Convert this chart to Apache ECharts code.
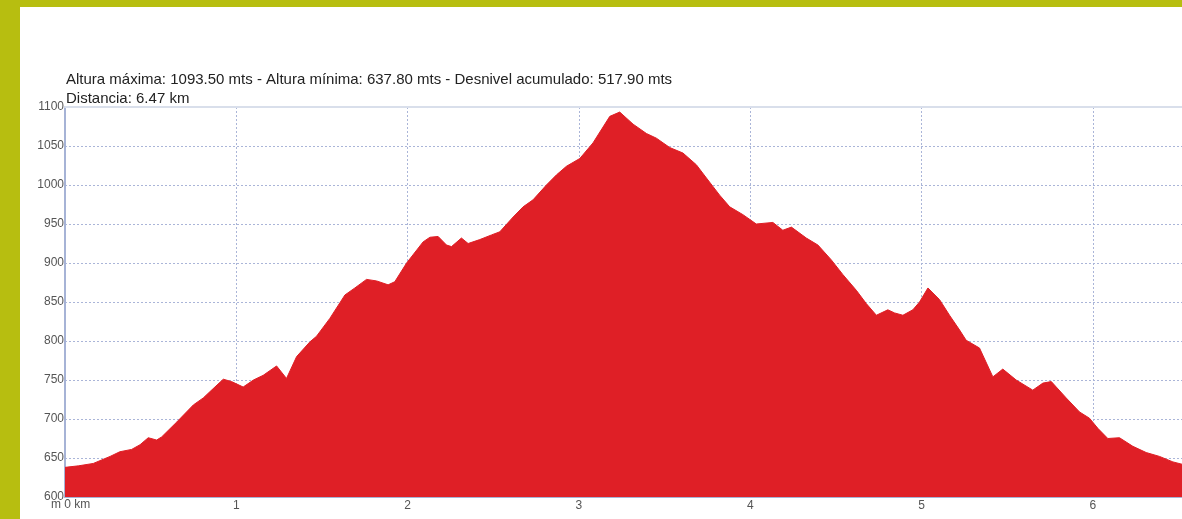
<!DOCTYPE html>
<html><head><meta charset="utf-8">
<script src="https://cdn.jsdelivr.net/npm/echarts@6/dist/echarts.min.js"></script>
<style>
html,body{margin:0;padding:0;width:1182px;height:519px;overflow:hidden;background:#b7be10;}
#panel{position:absolute;left:20px;top:7px;right:0;bottom:0;background:#fff;}
#chart{position:absolute;left:0;top:0;width:1182px;height:519px;}
</style></head>
<body><div id="panel"></div><div id="chart"></div>
<script>
const distancesKm = [0,0.08,0.165,0.263,0.32,0.389,0.438,0.486,0.535,0.564,0.652,0.749,0.807,0.87,0.924,0.972,1.04,1.10,1.157,1.235,1.293,1.352,1.43,1.468,1.546,1.634,1.692,1.76,1.819,1.886,1.925,1.994,2.09,2.13,2.178,2.227,2.256,2.314,2.353,2.421,2.49,2.538,2.616,2.674,2.732,2.81,2.869,2.927,3.005,3.082,3.18,3.238,3.316,3.394,3.452,3.53,3.607,3.685,3.744,3.821,3.88,3.957,4.035,4.132,4.19,4.24,4.327,4.395,4.473,4.541,4.619,4.677,4.736,4.803,4.842,4.891,4.949,4.988,5.037,5.105,5.163,5.222,5.26,5.338,5.416,5.474,5.552,5.649,5.708,5.757,5.844,5.922,5.98,6.029,6.087,6.155,6.233,6.311,6.389,6.467,6.52];
const elevationsM = [638,640,643,652,658,661,667,676,673,677,696,718,727,740,751,748,741,750,756,768,752,780,799,806,829,859,868,879,877,872,876,900,927,933,934,923,921,932,925,930,936,940,959,972,981,1000,1013,1024,1034,1054,1088,1093.5,1078,1066,1060,1048,1041,1026,1009,987,972,962,950,952,942,946,932,923,904,885,865,848,833,840,836,833,840,850,868,853,833,814,801,791,754,764,750,737,746,748,727,709,701,688,675,676,665,657,652,645,642];
const xTickLabels = ['m 0 km','1','2','3','4','5','6'];
const yTickLabels = ['600','650','700','750','800','850','900','950','1000','1050','1100'];
const titleLines = ['Altura máxima: 1093.50 mts - Altura mínima: 637.80 mts - Desnivel acumulado: 517.90 mts','Distancia: 6.47 km'];

const FONT = 'Liberation Sans, Arial, sans-serif';
const points = distancesKm.map((d,i)=>[d,elevationsM[i]]);
const chart = echarts.init(document.getElementById('chart'), null, {renderer:'canvas'});
const gridLine = {show:true,lineStyle:{color:'#aab5d8',type:[2,2],width:1}};
chart.setOption({
  animation:false,
  backgroundColor:'transparent',
  textStyle:{fontFamily:FONT},
  title:{text:titleLines.join('\n'),left:61,top:65,textStyle:{fontSize:15,fontWeight:'normal',color:'#222',lineHeight:19,fontFamily:FONT}},
  grid:{left:65,top:107,right:0,bottom:22,containLabel:false},
  xAxis:[{type:'value',min:0,max:6.52,interval:1,
    axisLine:{show:true,lineStyle:{color:'#a6b3d6',width:2}},
    axisTick:{show:false},
    splitLine:gridLine,
    axisLabel:{color:'#555',fontSize:12,margin:3,showMaxLabel:false,
      formatter:(v)=>{const i=Math.round(v);return i===0?'':(xTickLabels[i]||'');}}
  },{type:'value',position:'top',min:0,max:6.52,
    axisLine:{show:true,lineStyle:{color:'#d9dfeb',width:2}},
    axisTick:{show:false},axisLabel:{show:false},splitLine:{show:false}}],
  yAxis:{type:'value',min:600,max:1100,interval:50,
    axisLine:{show:true,lineStyle:{color:'#a6b3d6',width:2}},
    axisTick:{show:false},
    splitLine:gridLine,
    axisLabel:{color:'#555',fontSize:12,margin:1,
      formatter:(v)=>yTickLabels[Math.round((v-600)/50)]}
  },
  graphic:[{type:'text',left:51,top:499,style:{text:xTickLabels[0],fill:'#555',fontSize:12,fontFamily:FONT}}],
  series:[{type:'line',data:points,symbol:'none',smooth:false,
    lineStyle:{width:1,color:'#df1f26'},
    areaStyle:{color:'#df1f26',opacity:1},z:3}]
});
</script></body></html>
